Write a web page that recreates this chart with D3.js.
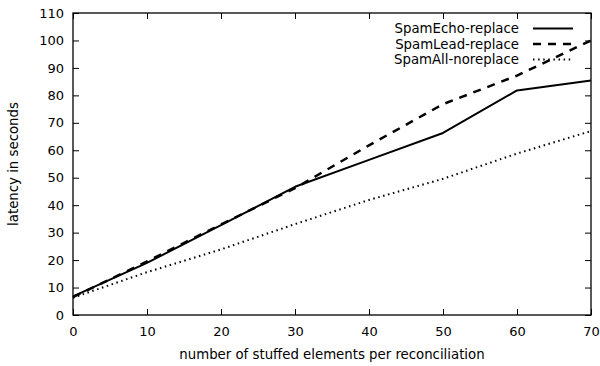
<!DOCTYPE html>
<html>
<head>
<meta charset="utf-8">
<script src="https://cdn.jsdelivr.net/npm/d3@7"></script>
<style>
  html, body { margin: 0; padding: 0; background: #fff; }
  svg { display: block; font-family: "DejaVu Sans", sans-serif; }
</style>
</head>
<body>
<svg id="chart" width="600" height="366"></svg>
<script>
// stuffed elements per reconciliation
const stuffed = [0, 10, 20, 30, 40, 50, 60, 70];
// latency in seconds for each protocol variant
const spamEchoReplace = [6.8, 19.0, 32.7, 46.7, 56.5, 66.3, 81.8, 85.4];
const spamLeadReplace = [6.5, 19.5, 33.0, 46.2, 61.8, 76.8, 87.2, 100.0];
const spamAllNoreplace = [6.3, 15.6, 23.9, 33.1, 41.9, 49.6, 58.8, 67.0];

const seriesNames = ["SpamEcho-replace", "SpamLead-replace", "SpamAll-noreplace"];
const xTicks = [0, 10, 20, 30, 40, 50, 60, 70];
const yTicks = [0, 10, 20, 30, 40, 50, 60, 70, 80, 90, 100, 110];

const series = [
  { name: seriesNames[0], values: spamEchoReplace, width: 2, dash: null },
  { name: seriesNames[1], values: spamLeadReplace, width: 2.5, dash: "8,7" },
  { name: seriesNames[2], values: spamAllNoreplace, width: 2, dash: "1.5,3.6" }
];

const svg = d3.select("#chart");
const m = { left: 73, top: 13, right: 9, bottom: 51 };
const W = 600 - m.left - m.right;
const H = 366 - m.top - m.bottom;

const x = d3.scaleLinear().domain([0, 70]).range([0, W]);
const y = d3.scaleLinear().domain([0, 110]).range([H, 0]);

const g = svg.append("g").attr("transform", `translate(${m.left},${m.top})`);

// inward ticks on all four sides
const tickLen = 6;
const axB = d3.axisBottom(x).tickValues(xTicks).tickSize(-tickLen).tickPadding(12).tickFormat(d3.format("d"));
const axT = d3.axisTop(x).tickValues(xTicks).tickSize(-tickLen).tickFormat("");
const axL = d3.axisLeft(y).tickValues(yTicks).tickSize(-tickLen).tickPadding(9).tickFormat(d3.format("d"));
const axR = d3.axisRight(y).tickValues(yTicks).tickSize(-tickLen).tickFormat("");

function styleAxis(sel) {
  sel.select(".domain").remove();
  sel.selectAll(".tick line").attr("stroke", "#000").attr("stroke-width", 1);
  sel.selectAll(".tick text").attr("fill", "#000").style("font-size", "13px").style("font-family", "DejaVu Sans");
}
g.append("g").attr("transform", `translate(0,${H})`).call(axB).call(styleAxis);
g.append("g").call(axT).call(styleAxis);
g.append("g").call(axL).call(styleAxis);
g.append("g").attr("transform", `translate(${W},0)`).call(axR).call(styleAxis);

// frame
g.append("rect").attr("x", 0).attr("y", 0).attr("width", W).attr("height", H)
  .attr("fill", "none").attr("stroke", "#000").attr("stroke-width", 1.3);

// data lines
const line = d3.line().x((d, i) => x(stuffed[i])).y(d => y(d));
series.forEach(s => {
  g.append("path").datum(s.values)
    .attr("d", line)
    .attr("fill", "none")
    .attr("stroke", "#000")
    .attr("stroke-width", s.width)
    .attr("stroke-dasharray", s.dash)
    .attr("stroke-linejoin", "round");
});

// legend, top right inside the frame
const legend = g.append("g");
series.forEach((s, i) => {
  const ly = 15.5 + i * 15.5;
  legend.append("text")
    .attr("x", 446).attr("y", ly).attr("dy", "0.35em")
    .attr("text-anchor", "end")
    .style("font-size", "13.3px")
    .attr("fill", "#000")
    .text(s.name);
  legend.append("line")
    .attr("x1", 460).attr("x2", 500).attr("y1", ly).attr("y2", ly)
    .attr("stroke", "#000").attr("stroke-width", s.width)
    .attr("stroke-dasharray", s.dash);
});

// axis titles
svg.append("text")
  .attr("x", m.left + W / 2).attr("y", 354).attr("dy", "0.35em")
  .attr("text-anchor", "middle").style("font-size", "13.3px").attr("fill", "#000")
  .text("number of stuffed elements per reconciliation");
svg.append("text")
  .attr("transform", `translate(13,${m.top + H / 2}) rotate(-90)`)
  .attr("dy", "0.35em")
  .attr("text-anchor", "middle").style("font-size", "13.3px").attr("fill", "#000")
  .text("latency in seconds");
</script>
</body>
</html>
